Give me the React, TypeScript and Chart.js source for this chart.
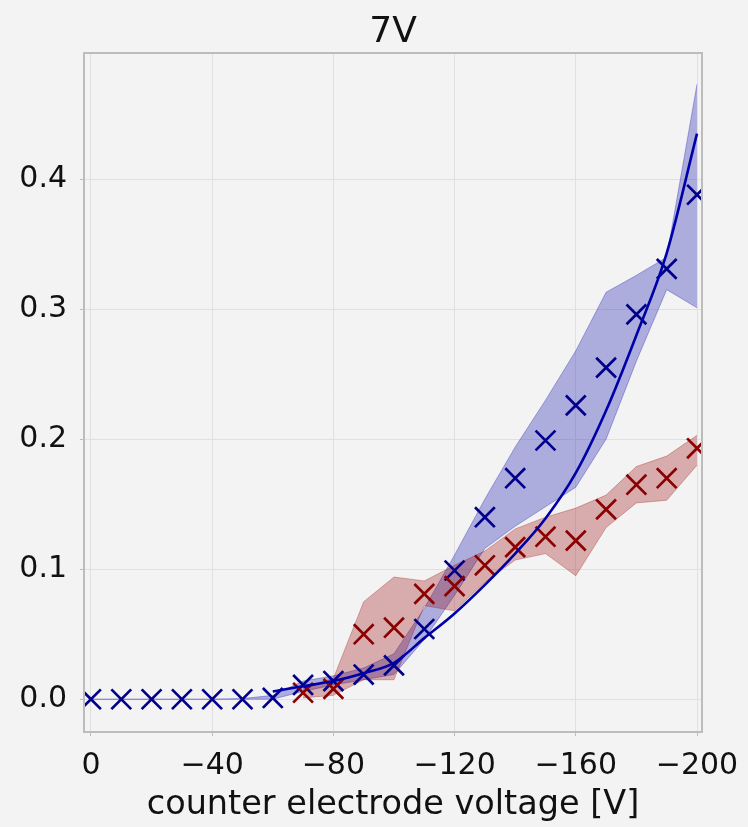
import React, { useEffect, useRef } from 'react';
import { Chart, registerables } from 'chart.js';

Chart.register(...registerables);

// ---- data ----
const voltages = [0, -10, -20, -30, -40, -50, -60, -70, -80, -90, -100, -110, -120, -130, -140, -150, -160, -170, -180, -190, -200];
const blueMean = [0, 0, 0, 0, 0, 0, 0.001, 0.011, 0.014, 0.019, 0.026, 0.054, 0.099, 0.140, 0.170, 0.199, 0.226, 0.255, 0.296, 0.331, 0.388];
const blueUpper = [0, 0, 0, 0, 0, 0.0005, 0.003, 0.014, 0.018, 0.024, 0.035, 0.070, 0.111, 0.154, 0.194, 0.230, 0.268, 0.313, 0.326, 0.340, 0.473];
const blueLower = [0, 0, 0, 0, 0, 0, 0, 0.006, 0.011, 0.015, 0.019, 0.046, 0.080, 0.116, 0.133, 0.148, 0.163, 0.200, 0.260, 0.315, 0.301];

const redVoltages = [-70, -80, -90, -100, -110, -120, -130, -140, -150, -160, -170, -180, -190, -200];
const redMean = [0.005, 0.008, 0.050, 0.055, 0.081, 0.087, 0.103, 0.117, 0.125, 0.122, 0.146, 0.165, 0.170, 0.193];
const redUpper = [0.009, 0.016, 0.075, 0.094, 0.091, 0.103, 0.114, 0.131, 0.140, 0.147, 0.157, 0.179, 0.187, 0.203];
const redLower = [0.001, 0.003, 0.015, 0.015, 0.072, 0.068, 0.090, 0.107, 0.112, 0.095, 0.132, 0.151, 0.153, 0.180];

const fitVoltages = [-60, -70, -80, -90, -100, -110, -120, -130, -140, -150, -160, -170, -180, -190, -200];
const fitValues = [0.006, 0.010, 0.014, 0.020, 0.028, 0.047, 0.066, 0.088, 0.112, 0.139, 0.174, 0.222, 0.280, 0.343, 0.435];

const xTicks = [0, -40, -80, -120, -160, -200];
const yTicks = [0, 0.1, 0.2, 0.3, 0.4];

const titleText = '7V';
const xLabel = 'counter electrode voltage [V]';

const BG = '#f3f3f3';
const BLUE = '#00008b';
const RED = '#8b0000';
const BLUE_BAND = 'rgba(0, 0, 170, 0.29)';
const RED_BAND = 'rgba(150, 0, 0, 0.29)';
const FONT = "'DejaVu Sans'";

const pts = (xs: number[], ys: number[]) => xs.map((x, i) => ({ x, y: ys[i] }));

const frame = {
  id: 'frame',
  afterDraw(chart: any) {
    const { ctx, chartArea } = chart;
    ctx.save();
    ctx.strokeStyle = '#bcbcbc';
    ctx.lineWidth = 2;
    ctx.strokeRect(chartArea.left, chartArea.top, chartArea.right - chartArea.left, chartArea.bottom - chartArea.top);
    ctx.fillStyle = '#111';
    ctx.font = `36px ${FONT}`;
    ctx.textAlign = 'center';
    ctx.textBaseline = 'alphabetic';
    ctx.fillText(titleText, (chartArea.left + chartArea.right) / 2, 42);
    ctx.restore();
  },
};

const bgPlugin = {
  id: 'bg',
  beforeDraw(chart: any) {
    const { ctx, width, height } = chart;
    ctx.save();
    ctx.fillStyle = BG;
    ctx.fillRect(0, 0, width, height);
    ctx.restore();
  },
};

export default function App() {
  const ref = useRef<HTMLCanvasElement>(null);

  useEffect(() => {
    document.body.style.margin = '0';
    document.body.style.background = BG;
    const canvas = ref.current!;
    const markerCommon = {
      showLine: false,
      pointStyle: 'crossRot',
      pointRadius: 14,
      pointHoverRadius: 14,
      pointBorderWidth: 2.7,
      clip: 0,
    };
    const bandCommon = {
      pointRadius: 0,
      borderWidth: 1,
      tension: 0,
      clip: 0,
    };
    const chart = new Chart(canvas, {
      type: 'line',
      data: {
        datasets: [
          { ...bandCommon, label: 'blue upper', data: pts(voltages, blueUpper), borderColor: BLUE_BAND, backgroundColor: BLUE_BAND, fill: '+1', order: 6 },
          { ...bandCommon, label: 'blue lower', data: pts(voltages, blueLower), borderColor: BLUE_BAND, backgroundColor: BLUE_BAND, fill: false, order: 5 },
          { ...bandCommon, label: 'red upper', data: pts(redVoltages, redUpper), borderColor: RED_BAND, backgroundColor: RED_BAND, fill: '+1', order: 4 },
          { ...bandCommon, label: 'red lower', data: pts(redVoltages, redLower), borderColor: RED_BAND, backgroundColor: RED_BAND, fill: false, order: 3 },
          { ...markerCommon, label: 'blue', data: pts(voltages, blueMean), borderColor: BLUE, backgroundColor: BLUE, order: 2 },
          { ...markerCommon, label: 'red', data: pts(redVoltages, redMean), borderColor: RED, backgroundColor: RED, order: 1 },
          {
            label: 'fit', data: pts(fitVoltages, fitValues), borderColor: '#0000a8', borderWidth: 2.6,
            pointRadius: 0, cubicInterpolationMode: 'monotone', fill: false, clip: 0, order: 0,
          },
        ] as any,
      },
      options: {
        animation: false,
        responsive: false,
        maintainAspectRatio: false,
        devicePixelRatio: 1,
        layout: { padding: { left: 0, right: 46, top: 53, bottom: 0 } },
        font: { family: FONT },
        plugins: {
          legend: { display: false },
          tooltip: { enabled: false },
          title: { display: false },
        },
        scales: {
          x: {
            type: 'linear',
            reverse: true,
            min: -201.65,
            max: 2.3,
            afterBuildTicks: (s: any) => { s.ticks = xTicks.map((v) => ({ value: v })); },
            afterFit: (s: any) => { s.height = 95; s.paddingLeft = 0; s.paddingRight = 0; },
            grid: { color: '#e0e0e0', lineWidth: 1, tickLength: 4, tickColor: '#bcbcbc', drawTicks: true },
            border: { display: false },
            ticks: {
              color: '#111',
              font: { family: FONT, size: 30 },
              padding: 12,
              maxRotation: 0,
              autoSkip: false,
              callback: (v: any) => (v === 0 ? '0' : '\u2212' + Math.abs(v)),
            },
            title: {
              display: true,
              text: xLabel,
              color: '#111',
              font: { family: FONT, size: 33.5, lineHeight: 1.2 },
              padding: { top: 0, bottom: 2 },
            },
          },
          y: {
            type: 'linear',
            min: -0.0252,
            max: 0.497,
            afterBuildTicks: (s: any) => { s.ticks = yTicks.map((v) => ({ value: v })); },
            afterFit: (s: any) => { s.width = 84; s.paddingTop = 0; s.paddingBottom = 0; },
            grid: { color: '#e0e0e0', lineWidth: 1, tickLength: 4, tickColor: '#bcbcbc', drawTicks: true },
            border: { display: false },
            ticks: {
              color: '#111',
              font: { family: FONT, size: 30 },
              padding: 13,
              callback: (v: any) => Number(v).toFixed(1),
            },
          },
        },
      },
      plugins: [bgPlugin, frame],
    } as any);
    return () => chart.destroy();
  }, []);

  return (
    <div style={{ position: 'fixed', left: 0, top: 0, width: 748, height: 827, background: BG }}>
      <canvas ref={ref} width={748} height={827} style={{ display: 'block', width: 748, height: 827 }} />
    </div>
  );
}
